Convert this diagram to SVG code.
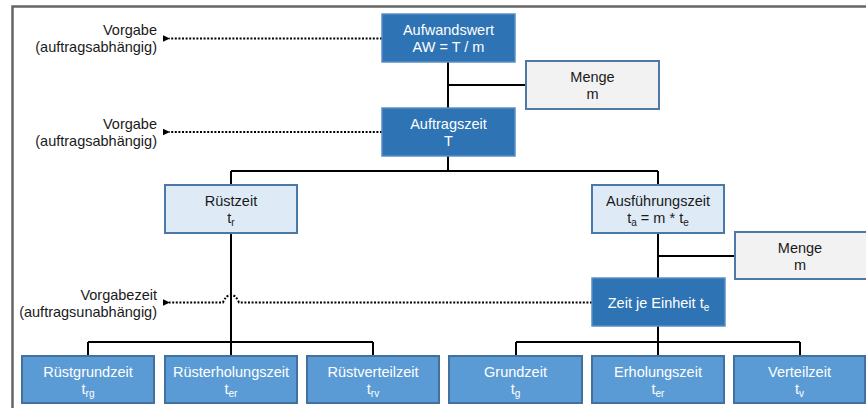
<svg xmlns="http://www.w3.org/2000/svg" width="866" height="408" viewBox="0 0 866 408">
<defs>
<style>
text{font-family:"Liberation Sans",Arial,sans-serif;font-size:14.5px;fill:#1a1a1a;}
.c{text-anchor:middle;}
.r{text-anchor:end;}
.w{fill:#fff;}
.sub{font-size:10px;}
.dark{fill:#2e73b3;stroke:#5a8fc6;stroke-width:1.5;}
.light{fill:#deebf7;stroke:#4a78a8;stroke-width:2;}
.grey{fill:#f2f2f2;stroke:#4e79a7;stroke-width:2;}
.mid{fill:#5b9bd5;stroke:#41719c;stroke-width:2;}
.ln{fill:none;stroke:#000;stroke-width:2;}
.dot{fill:none;stroke:#000;stroke-width:2;stroke-dasharray:2 1.6;}
</style>
<marker id="ah" markerWidth="8" markerHeight="8" refX="1" refY="4" orient="auto" markerUnits="userSpaceOnUse">
<path d="M0,4 L7,0.8 L7,7.2 Z" fill="#000"/>
</marker>
</defs>
<rect width="866" height="408" fill="#fff"/>
<path d="M12.5,408 V6.5 H866" fill="none" stroke="#666" stroke-width="2.5"/>

<g id="connectors">
<path class="ln" d="M448,62 V108 M448,85 H526"/>
<path class="ln" d="M448,156 V171 M231,171 H658 M231,171 V185 M658,171 V185"/>
<path class="ln" d="M658,233 V278 M658,256 H735"/>
<path class="ln" d="M231,233 V356 M88,342 H373 M88,342 V356 M373,342 V356"/>
<path class="ln" d="M658,326 V356 M516,342 H800 M516,342 V356 M800,342 V356"/>
<path class="dot" d="M382,38.5 H169" marker-end="url(#ah)"/>
<path class="dot" d="M382,132 H169" marker-end="url(#ah)"/>
<path class="dot" d="M592,302.5 H239 Q236,295 231,295 Q226,295 223,302.5 H169" marker-end="url(#ah)"/>
</g>

<g id="label-vorgabe1">
<text class="r" x="157" y="35">Vorgabe</text>
<text class="r" x="157" y="52">(auftragsabhängig)</text>
</g>
<g id="label-vorgabe2">
<text class="r" x="157" y="129">Vorgabe</text>
<text class="r" x="157" y="146">(auftragsabhängig)</text>
</g>
<g id="label-vorgabezeit">
<text class="r" x="157" y="300">Vorgabezeit</text>
<text class="r" x="157" y="317">(auftragsunabhängig)</text>
</g>

<g id="aufwandswert">
<rect class="dark" x="382" y="14" width="133" height="48"/>
<text class="c w" x="448.5" y="35">Aufwandswert</text>
<text class="c w" x="448.5" y="52">AW = T / m</text>
</g>
<g id="menge1">
<rect class="grey" x="526" y="61" width="133" height="48"/>
<text class="c" x="592.5" y="82">Menge</text>
<text class="c" x="592.5" y="99">m</text>
</g>
<g id="auftragszeit">
<rect class="dark" x="382" y="108" width="133" height="48"/>
<text class="c w" x="448.5" y="129">Auftragszeit</text>
<text class="c w" x="448.5" y="146">T</text>
</g>
<g id="ruestzeit">
<rect class="light" x="165" y="185" width="132" height="48"/>
<text class="c" x="231" y="206">Rüstzeit</text>
<text class="c" x="231" y="223">t<tspan class="sub" dy="3">r</tspan></text>
</g>
<g id="ausfuehrungszeit">
<rect class="light" x="592" y="185" width="132" height="48"/>
<text class="c" x="658" y="206">Ausführungszeit</text>
<text class="c" x="658" y="223">t<tspan class="sub" dy="3">a</tspan><tspan dy="-3"> = m * t</tspan><tspan class="sub" dy="3">e</tspan></text>
</g>
<g id="menge2">
<rect class="grey" x="735" y="232" width="132" height="47"/>
<text class="c" x="800" y="253">Menge</text>
<text class="c" x="800" y="270">m</text>
</g>
<g id="zeit-je-einheit">
<rect class="dark" x="592" y="278" width="133" height="48"/>
<text class="c w" x="658.5" y="308">Zeit je Einheit t<tspan class="sub" dy="3">e</tspan></text>
</g>
<g id="ruestgrundzeit">
<rect class="mid" x="22" y="356" width="132" height="47"/>
<text class="c w" x="88" y="377">Rüstgrundzeit</text>
<text class="c w" x="88" y="394">t<tspan class="sub" dy="3">rg</tspan></text>
</g>
<g id="ruesterholungszeit">
<rect class="mid" x="165" y="356" width="132" height="47"/>
<text class="c w" x="231" y="377">Rüsterholungszeit</text>
<text class="c w" x="231" y="394">t<tspan class="sub" dy="3">er</tspan></text>
</g>
<g id="ruestverteilzeit">
<rect class="mid" x="307" y="356" width="132" height="47"/>
<text class="c w" x="373" y="377">Rüstverteilzeit</text>
<text class="c w" x="373" y="394">t<tspan class="sub" dy="3">rv</tspan></text>
</g>
<g id="grundzeit">
<rect class="mid" x="449" y="356" width="133" height="47"/>
<text class="c w" x="515.5" y="377">Grundzeit</text>
<text class="c w" x="515.5" y="394">t<tspan class="sub" dy="3">g</tspan></text>
</g>
<g id="erholungszeit">
<rect class="mid" x="592" y="356" width="132" height="47"/>
<text class="c w" x="658" y="377">Erholungszeit</text>
<text class="c w" x="658" y="394">t<tspan class="sub" dy="3">er</tspan></text>
</g>
<g id="verteilzeit">
<rect class="mid" x="734" y="356" width="131" height="47"/>
<text class="c w" x="799.5" y="377">Verteilzeit</text>
<text class="c w" x="799.5" y="394">t<tspan class="sub" dy="3">v</tspan></text>
</g>
</svg>
